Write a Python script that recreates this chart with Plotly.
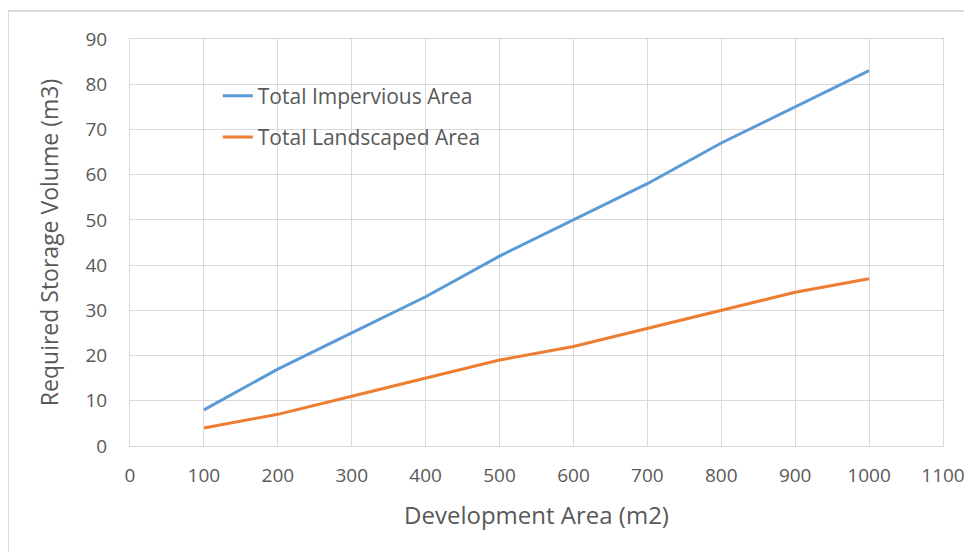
import plotly.graph_objects as go

dev_area = [100, 200, 300, 400, 500, 600, 700, 800, 900, 1000]
impervious = [8, 17, 25, 33, 42, 50, 58, 67, 75, 83]
landscaped = [4, 7, 11, 15, 19, 22, 26, 30, 34, 37]
series_names = ["Total Impervious Area", "Total Landscaped Area"]
x_ticks = list(range(0, 1101, 100))
y_ticks = list(range(0, 91, 10))

FONT = "Open Sans"
GRAY = "#595959"
GRID = "#d9d9d9"

fig = go.Figure()
fig.add_trace(go.Scatter(x=dev_area, y=impervious, mode="lines", name=series_names[0],
                         line=dict(color="#5B9BD5", width=3), legendgroup="a"))
fig.add_trace(go.Scatter(x=dev_area, y=landscaped, mode="lines", name=series_names[1],
                         line=dict(color="#ED7D31", width=3), legendgroup="b"))

fig.update_layout(
    width=964, height=544,
    margin=dict(l=122, r=29, t=31, b=106, autoexpand=False),
    paper_bgcolor="white", plot_bgcolor="white",
    font=dict(family=FONT, color=GRAY, size=18),
    showlegend=True,
    legend=dict(x=0.108, y=0.91, xanchor="left", yanchor="top",
                bgcolor="rgba(0,0,0,0)", font=dict(size=21, color=GRAY),
                tracegroupgap=11, itemwidth=30),
    xaxis=dict(range=[0, 1100], tickvals=x_ticks, showgrid=True, gridcolor=GRID,
               gridwidth=1, zeroline=False, showline=True, linecolor=GRID, mirror=True,
               ticks="", ticklabelstandoff=12,
               tickfont=dict(size=19, color=GRAY),
               title=dict(text="Development Area (m2)", font=dict(size=24, color=GRAY), standoff=20)),
    yaxis=dict(range=[0, 90], tickvals=y_ticks, showgrid=True, gridcolor=GRID,
               gridwidth=1, zeroline=False, showline=True, linecolor=GRID, mirror=True,
               ticks="", ticklabelstandoff=18,
               tickfont=dict(size=19, color=GRAY),
               title=dict(text="Required Storage Volume (m3)", font=dict(size=23, color=GRAY), standoff=20)),
    shapes=[dict(type="rect", xref="paper", yref="paper",
                 x0=-0.150, x1=1.06, y0=-0.4, y1=1.0688,
                 line=dict(color=GRID, width=2), fillcolor="rgba(0,0,0,0)", layer="below")],
)

fig.write_html("out.html")
